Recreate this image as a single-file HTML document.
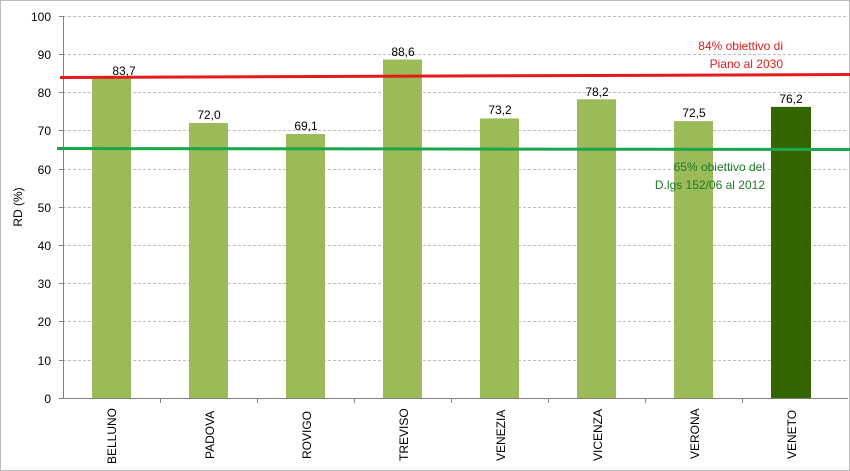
<!DOCTYPE html>
<html><head><meta charset="utf-8"><style>
body{margin:0;background:#fff}
svg{display:block;font-family:"Liberation Sans","DejaVu Sans",sans-serif}
</style></head><body>
<svg width="850" height="471" viewBox="0 0 850 471">
<rect x="0.5" y="0.5" width="849" height="470" fill="#fff" stroke="#bbb"/>
<g stroke="#bfbfbf" stroke-dasharray="3,2" stroke-width="1">
<line x1="63" x2="848" y1="16.5" y2="16.5"/><line x1="63" x2="848" y1="54.5" y2="54.5"/>
<line x1="63" x2="848" y1="92.5" y2="92.5"/><line x1="63" x2="848" y1="130.5" y2="130.5"/>
<line x1="63" x2="848" y1="169.5" y2="169.5"/><line x1="63" x2="848" y1="207.5" y2="207.5"/>
<line x1="63" x2="848" y1="245.5" y2="245.5"/><line x1="63" x2="848" y1="283.5" y2="283.5"/>
<line x1="63" x2="848" y1="321.5" y2="321.5"/><line x1="63" x2="848" y1="360.5" y2="360.5"/>
</g>
<g fill="#9bbb59">
<rect x="92" y="78.3" width="39" height="319.7"/>
<rect x="189" y="123" width="39" height="275"/>
<rect x="286" y="134" width="39" height="264"/>
<rect x="383" y="59.5" width="39" height="338.5"/>
<rect x="480" y="118.4" width="39" height="279.6"/>
<rect x="577" y="99.3" width="39" height="298.7"/>
<rect x="674" y="121.1" width="39" height="276.9"/>
</g>
<rect x="771" y="106.9" width="40" height="291.1" fill="#336600"/>
<g stroke="#808080" stroke-width="1">
<line x1="63.5" y1="16" x2="63.5" y2="398"/>
<line x1="59" y1="398.5" x2="848" y2="398.5"/>
<line x1="59" x2="63" y1="16.5" y2="16.5"/><line x1="59" x2="63" y1="54.5" y2="54.5"/><line x1="59" x2="63" y1="92.5" y2="92.5"/><line x1="59" x2="63" y1="130.5" y2="130.5"/><line x1="59" x2="63" y1="169.5" y2="169.5"/><line x1="59" x2="63" y1="207.5" y2="207.5"/><line x1="59" x2="63" y1="245.5" y2="245.5"/><line x1="59" x2="63" y1="283.5" y2="283.5"/><line x1="59" x2="63" y1="321.5" y2="321.5"/><line x1="59" x2="63" y1="360.5" y2="360.5"/>
<line x1="160.5" x2="160.5" y1="398" y2="403"/><line x1="257.5" x2="257.5" y1="398" y2="403"/><line x1="354.5" x2="354.5" y1="398" y2="403"/><line x1="451.5" x2="451.5" y1="398" y2="403"/><line x1="548.5" x2="548.5" y1="398" y2="403"/><line x1="645.5" x2="645.5" y1="398" y2="403"/><line x1="742.5" x2="742.5" y1="398" y2="403"/>
</g>
<line x1="60" y1="77.5" x2="850" y2="74.5" stroke="#e31b1b" stroke-width="3"/>
<line x1="57" y1="148.5" x2="850" y2="149.5" stroke="#1aa64a" stroke-width="3"/>
<g font-size="12" fill="#000" text-anchor="end">
<text x="51" y="21">100</text><text x="51" y="59">90</text><text x="51" y="97">80</text><text x="51" y="135">70</text><text x="51" y="174">60</text><text x="51" y="212">50</text><text x="51" y="250">40</text><text x="51" y="288">30</text><text x="51" y="326">20</text><text x="51" y="365">10</text><text x="51" y="403">0</text>
</g>
<text transform="translate(22,207) rotate(-90)" font-size="12" text-anchor="middle">RD (%)</text>
<g font-size="12" text-anchor="middle">
<text x="124" y="75">83,7</text><text x="209" y="119">72,0</text><text x="306" y="130">69,1</text><text x="403" y="56">88,6</text><text x="500" y="114">73,2</text><text x="597" y="96">78,2</text><text x="694" y="117">72,5</text><text x="791" y="103">76,2</text>
</g>
<g font-size="12" text-anchor="end">
<text transform="translate(116,464) rotate(-90)" x="0" y="0" text-anchor="start">BELLUNO</text>
<text transform="translate(214,459) rotate(-90)" text-anchor="start">PADOVA</text>
<text transform="translate(311,459) rotate(-90)" text-anchor="start">ROVIGO</text>
<text transform="translate(408,461) rotate(-90)" text-anchor="start">TREVISO</text>
<text transform="translate(505,461) rotate(-90)" text-anchor="start">VENEZIA</text>
<text transform="translate(602,461) rotate(-90)" text-anchor="start">VICENZA</text>
<text transform="translate(699,459) rotate(-90)" text-anchor="start">VERONA</text>
<text transform="translate(796,459) rotate(-90)" text-anchor="start">VENETO</text>
</g>
<g font-size="12" fill="#e31b1b" text-anchor="end">
<text x="783" y="50">84% obiettivo di</text><text x="783" y="68">Piano al 2030</text>
</g>
<g font-size="12" fill="#1f7a2a" text-anchor="end">
<text x="765" y="171">65% obiettivo del</text><text x="765" y="189">D.lgs 152/06  al 2012</text>
</g>
</svg>
</body></html>
